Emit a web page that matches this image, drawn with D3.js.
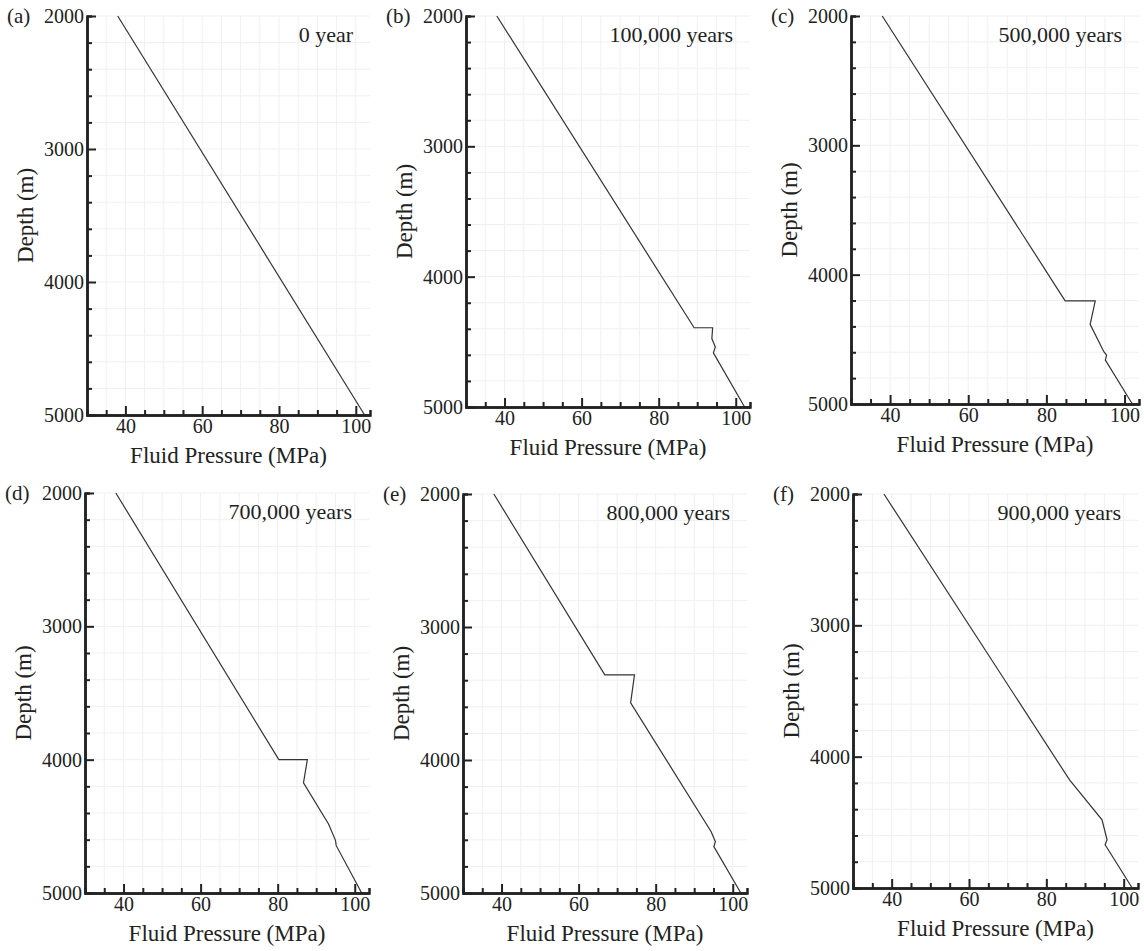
<!DOCTYPE html>
<html>
<head>
<meta charset="utf-8">
<script src="https://cdn.jsdelivr.net/npm/d3@7"></script>
<style>
  body { margin: 0; background: #fff; }
</style>
</head>
<body>
<script>
var SERIF = "'Liberation Serif', 'Times New Roman', Times, 'DejaVu Serif', serif";

// panel letters and times
var panelLetters = ["(a)", "(b)", "(c)", "(d)", "(e)", "(f)"];
var timeLabels = ["0 year", "100,000 years", "500,000 years", "700,000 years", "800,000 years", "900,000 years"];

// depth (m) / fluid pressure (MPa) profiles
var depthA = [2000, 5000];
var pressA = [38, 102.3];

var depthB = [2000, 4392, 4392, 4475, 4540, 4585, 5000];
var pressB = [38, 89.2, 94.0, 93.8, 94.7, 94.2, 102.3];

var depthC = [2000, 4202, 4202, 4384, 4596, 4622, 4660, 5000];
var pressC = [38, 84.8, 92.5, 91.2, 94.7, 95.4, 95.1, 102.0];

var depthD = [2000, 4000, 4000, 4174, 4482, 4605, 4645, 5000];
var pressD = [38, 80.3, 87.7, 86.7, 93.2, 95.0, 95.2, 101.8];

var depthE = [2000, 3360, 3360, 3570, 4539, 4614, 4651, 5000];
var pressE = [38, 66.8, 74.5, 73.5, 94.4, 95.5, 95.1, 102.1];

var depthF = [2000, 4177, 4481, 4633, 4671, 5000];
var pressF = [38, 86.0, 94.4, 95.7, 95.2, 102.2];

var depthTicks = [2000, 3000, 4000, 5000];
var pressTicks = [40, 60, 80, 100];

var profiles = [
  [depthA, pressA], [depthB, pressB], [depthC, pressC],
  [depthD, pressD], [depthE, pressE], [depthF, pressF]
];

// plot boxes (left, top, right, bottom) in page pixels
var boxes = [
  [87, 16, 370, 415],
  [466, 16, 750, 407],
  [851, 16, 1139, 404],
  [85, 493, 369, 893],
  [463, 494, 747, 893],
  [853, 494, 1138, 888]
];

var svg = d3.select("body").append("svg")
  .attr("width", 1144)
  .attr("height", 951);

for (var i = 0; i < 6; i++) {
  drawPanel(i);
}

function drawPanel(i) {
  var b = boxes[i];
  var x = d3.scaleLinear().domain([30, 103.7]).range([b[0], b[2]]);
  var y = d3.scaleLinear().domain([2000, 5000]).range([b[1], b[3]]);
  var g = svg.append("g");

  // light grid
  var gx = d3.range(35, 103, 5);
  var gy = d3.range(2000, 5000, 200);
  g.append("g").selectAll("line").data(gx).enter().append("line")
    .attr("x1", function(d) { return x(d); })
    .attr("x2", function(d) { return x(d); })
    .attr("y1", y(2000)).attr("y2", y(5000))
    .attr("stroke", "#f0f0f0").attr("stroke-width", 1);
  g.append("g").selectAll("line").data(gy).enter().append("line")
    .attr("x1", x(30)).attr("x2", x(103.7))
    .attr("y1", function(d) { return y(d); })
    .attr("y2", function(d) { return y(d); })
    .attr("stroke", "#f0f0f0").attr("stroke-width", 1);

  // profile
  var dep = profiles[i][0], pr = profiles[i][1];
  var pts = dep.map(function(d, k) { return [pr[k], d]; });
  g.append("path")
    .datum(pts)
    .attr("fill", "none")
    .attr("stroke", "#333")
    .attr("stroke-width", 1.2)
    .attr("d", d3.line().x(function(d) { return x(d[0]); }).y(function(d) { return y(d[1]); }));

  // minor ticks
  g.append("g")
    .attr("transform", "translate(" + b[0] + ",0)")
    .call(d3.axisLeft(y).tickValues(gy.filter(function(d) { return d % 1000; })).tickSize(-5).tickFormat(""))
    .call(styleAxis);
  g.append("g")
    .attr("transform", "translate(0," + b[3] + ")")
    .call(d3.axisBottom(x).tickValues(gx.filter(function(d) { return d % 20; })).tickSize(-5).tickFormat(""))
    .call(styleAxis);

  // major axes
  g.append("g")
    .attr("transform", "translate(" + b[0] + ",0)")
    .call(d3.axisLeft(y).tickValues(depthTicks).tickFormat(d3.format("d")).tickSizeInner(-9).tickSizeOuter(0).tickPadding(3))
    .call(styleAxis)
    .selectAll("text").attr("font-size", 20);
  g.append("g")
    .attr("transform", "translate(0," + b[3] + ")")
    .call(d3.axisBottom(x).tickValues(pressTicks).tickFormat(d3.format("d")).tickSizeInner(-9).tickSizeOuter(0).tickPadding(4))
    .call(styleAxis)
    .selectAll("text").attr("font-size", 20);

  // titles
  g.append("text")
    .attr("x", (b[0] + b[2]) / 2)
    .attr("y", b[3] + 48)
    .attr("text-anchor", "middle")
    .attr("font-family", SERIF)
    .attr("font-size", 23)
    .attr("fill", "#222")
    .text("Fluid Pressure (MPa)");
  g.append("text")
    .attr("transform", "translate(" + (b[0] - 54) + "," + ((b[1] + b[3]) / 2) + ") rotate(-90)")
    .attr("text-anchor", "middle")
    .attr("font-family", SERIF)
    .attr("font-size", 23)
    .attr("fill", "#222")
    .text("Depth (m)");

  g.append("text")
    .attr("x", b[0] - 80)
    .attr("y", b[1] + 7)
    .attr("font-family", SERIF)
    .attr("font-size", 21)
    .attr("fill", "#222")
    .text(panelLetters[i]);

  g.append("text")
    .attr("x", b[2] - 17)
    .attr("y", b[1] + 26)
    .attr("text-anchor", "end")
    .attr("font-family", SERIF)
    .attr("font-size", 22)
    .attr("fill", "#222")
    .text(timeLabels[i]);
}

function styleAxis(sel) {
  sel.attr("font-family", SERIF);
  sel.select(".domain").attr("stroke", "#222").attr("stroke-width", 2.5);
  sel.selectAll(".tick line").attr("stroke", "#222").attr("stroke-width", 2);
  sel.selectAll("text").attr("fill", "#222");
}
</script>
</body>
</html>
